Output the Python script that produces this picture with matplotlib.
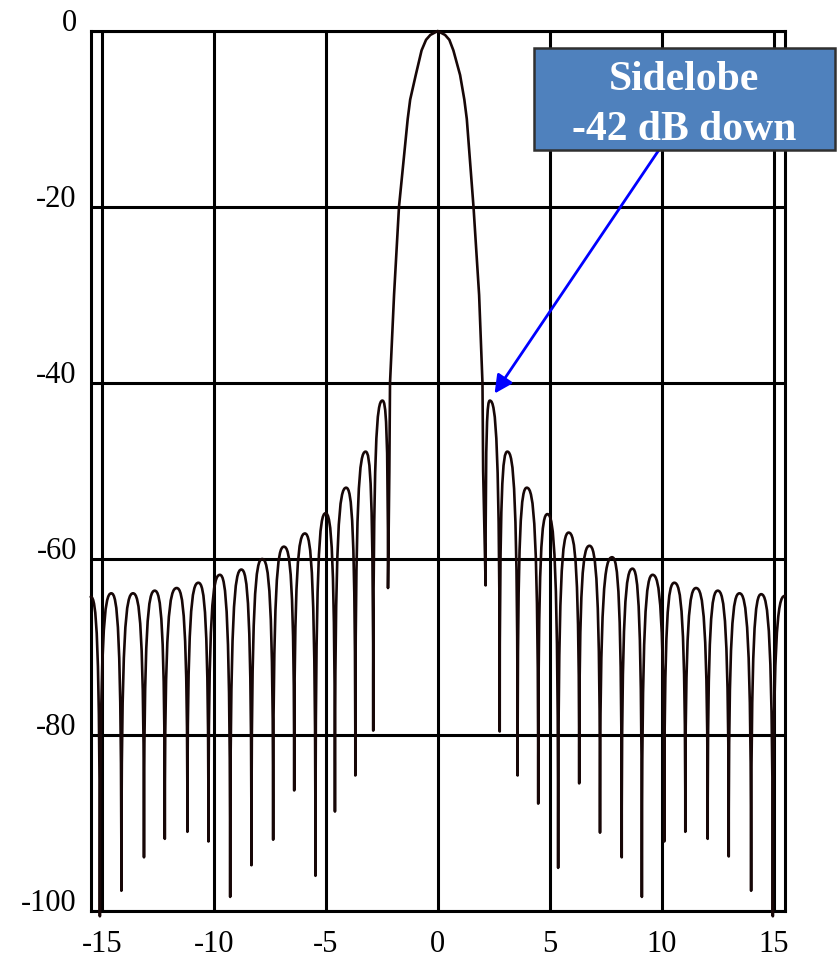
import matplotlib.pyplot as plt
from matplotlib.path import Path
from matplotlib.patches import PathPatch, Rectangle

plt.rcParams['font.family'] = ['Liberation Serif', 'DejaVu Serif']
plt.rcParams['axes.unicode_minus'] = False

# sidelobes left of the main lobe, from the outer edge inwards
left_peak_x = [-15.50, -14.58, -13.61, -12.64, -11.66, -10.69, -9.73, -8.77,
               -7.84, -6.87, -5.93, -5.01, -4.09, -3.22, -2.47]
left_peak_db = [-64.3, -63.9, -63.9, -63.6, -63.3, -62.7, -61.8, -61.2,
                -60.0, -58.6, -57.1, -54.8, -51.9, -47.8, -42.0]
left_null_x = [-15.09, -14.13, -13.12, -12.19, -11.18, -10.24, -9.27, -8.32,
               -7.35, -6.41, -5.46, -4.59, -3.68, -2.88, -2.22]
left_null_db = [-100.6, -97.7, -93.9, -91.8, -91.0, -92.1, -98.4, -94.8,
                -91.9, -86.3, -96.0, -88.7, -84.6, -79.5, -63.3]

# main lobe
main_x = [-2.16, -2.13, -1.95, -1.73, -1.34, -1.23, -0.98, -0.72, -0.52, -0.33, 0.0,
          0.33, 0.52, 0.70, 1.00, 1.19, 1.30, 1.60, 1.85, 2.00, 2.03]
main_db = [-50, -40, -30, -20, -10, -7.8, -5, -2.2, -1, -0.45, 0,
           -0.45, -1, -2.2, -5, -7.8, -10, -20, -30, -40, -50]

# sidelobes right of the main lobe, from the centre outwards
right_null_x = [2.14, 2.77, 3.57, 4.49, 5.38, 6.32, 7.25, 8.22, 9.12, 10.12,
                11.06, 12.06, 13.00, 14.00, 14.97]
right_null_db = [-63.0, -79.6, -84.6, -87.8, -95.1, -85.5, -91.1, -93.9, -98.4, -92.1,
                 -91.0, -91.8, -93.8, -97.7, -100.6]
right_peak_x = [2.33, 3.11, 3.98, 4.90, 5.85, 6.78, 7.79, 8.70, 9.60, 10.57,
                11.54, 12.51, 13.48, 14.45, 15.50]
right_peak_db = [-42.0, -47.8, -51.9, -54.9, -57.0, -58.5, -59.8, -61.1, -61.8, -62.7,
                 -63.3, -63.6, -63.9, -64.0, -64.2]

xticks = [-15, -10, -5, 0, 5, 10, 15]
yticks = [0, -20, -40, -60, -80, -100]

# bezier handles: flat over the lobe top, vertical into the null
F = 0.6
C = 0.1


def down(x0, y0, x1, y1):
    return [(x0 + F * (x1 - x0), y0), (x1, y0 + C * (y1 - y0)), (x1, y1)]


def up(x0, y0, x1, y1):
    return [(x0, y1 + C * (y0 - y1)), (x1 - F * (x1 - x0), y1), (x1, y1)]


verts = [(left_peak_x[0], left_peak_db[0])]
codes = [Path.MOVETO]
for i in range(len(left_null_x)):
    verts += down(left_peak_x[i], left_peak_db[i], left_null_x[i], left_null_db[i])
    codes += [Path.CURVE4] * 3
    if i + 1 < len(left_peak_x):
        verts += up(left_null_x[i], left_null_db[i], left_peak_x[i + 1], left_peak_db[i + 1])
        codes += [Path.CURVE4] * 3

verts += list(zip(main_x, main_db))
codes += [Path.LINETO] * len(main_x)
verts.append((right_null_x[0], right_null_db[0]))
codes.append(Path.LINETO)

for j in range(len(right_peak_x)):
    verts += up(right_null_x[j], right_null_db[j], right_peak_x[j], right_peak_db[j])
    codes += [Path.CURVE4] * 3
    if j + 1 < len(right_null_x):
        verts += down(right_peak_x[j], right_peak_db[j], right_null_x[j + 1], right_null_db[j + 1])
        codes += [Path.CURVE4] * 3

fig = plt.figure(figsize=(8.38, 9.63), dpi=100)
ax = fig.add_axes([90.7 / 838, 1 - 911 / 963, (784.7 - 90.7) / 838, (911 - 31) / 963])

ax.add_patch(PathPatch(Path(verts, codes), fill=False, edgecolor='#170707', lw=1.9,
                       joinstyle='round', capstyle='round', clip_on=False, zorder=3))

ax.set_xlim(-15.5, 15.5)
ax.set_ylim(-100, 0)
ax.set_xticks(xticks)
ax.set_xticklabels([str(v) for v in xticks])
ax.set_yticks(yticks)
ax.set_yticklabels([str(v) for v in yticks])
ax.grid(True, color='black', lw=2.2)
ax.set_axisbelow(True)
for s in ax.spines.values():
    s.set_linewidth(2.2)
    s.set_color('black')
ax.tick_params(length=0, labelsize=22)
ax.tick_params(axis='x', pad=14)
ax.tick_params(axis='y', pad=10)
plt.setp(ax.get_yticklabels(), va='baseline')

# callout
ax.annotate('', xy=(2.54, -41.2), xytext=(9.86, -13.6),
            arrowprops=dict(arrowstyle='-|>', color='#0000ff', lw=2.0,
                            mutation_scale=27, shrinkA=0, shrinkB=0),
            annotation_clip=False, zorder=4)
ax.add_patch(Rectangle((534 / 838, 1 - 150 / 963), 301 / 838, 102 / 963,
                       transform=fig.transFigure, facecolor='#4f81bd',
                       edgecolor='#303030', lw=1.8, clip_on=False, zorder=5))
ax.text(684 / 838, 1 - 90 / 963, 'Sidelobe', transform=fig.transFigure,
        ha='center', va='baseline', color='white', fontsize=30, fontweight='bold', zorder=6)
ax.text(684 / 838, 1 - 140 / 963, '-42 dB down', transform=fig.transFigure,
        ha='center', va='baseline', color='white', fontsize=30, fontweight='bold', zorder=6)

fig.savefig('out.png', dpi=100)
